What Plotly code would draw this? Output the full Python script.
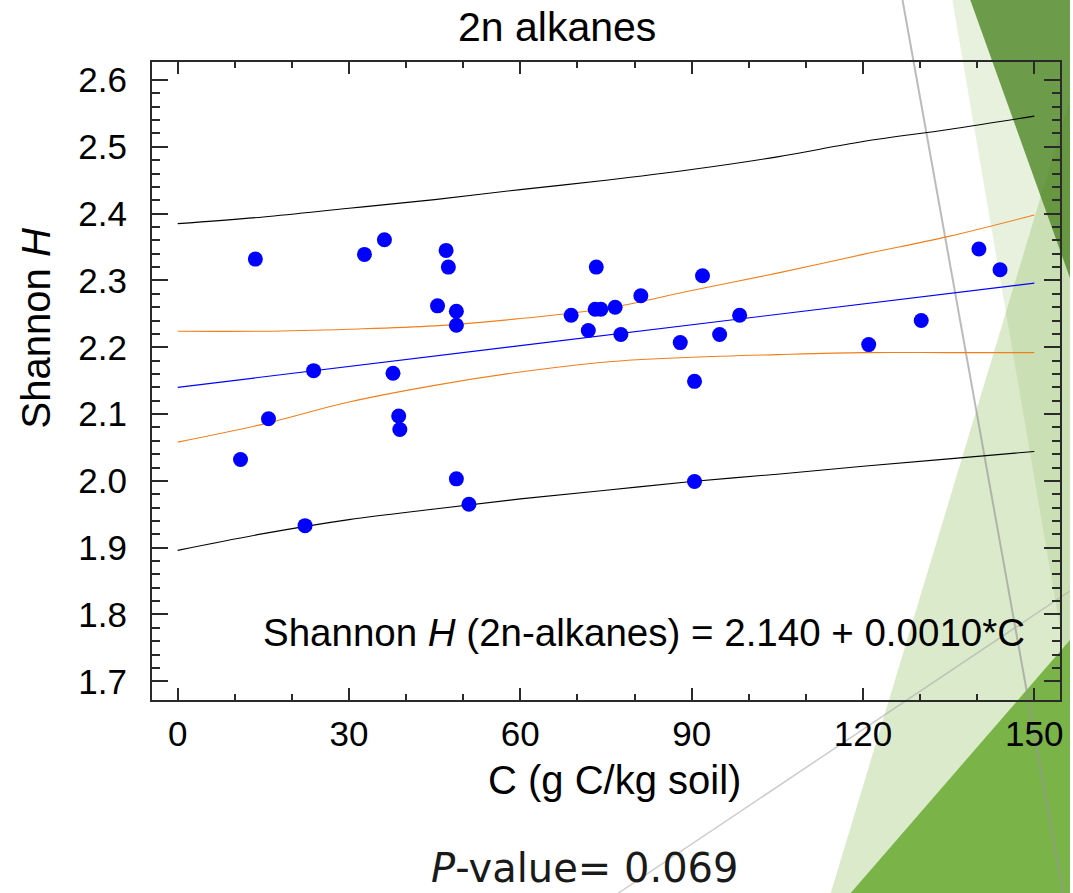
import numpy as np
import plotly.graph_objects as go

# ---------------- data ----------------
c_values = [11.0, 13.6, 15.9, 22.3, 23.8, 32.7, 36.2, 37.7, 38.7, 38.9,
            45.5, 47.0, 47.4, 48.8, 48.8, 48.8, 51.0, 68.9, 71.9, 73.3,
            73.1, 74.1, 76.6, 77.6, 81.1, 88.0, 90.5, 90.5, 91.9, 94.9,
            98.4, 121.0, 130.2, 140.3, 144.0]
shannon_h = [2.032, 2.332, 2.093, 1.933, 2.165, 2.339, 2.361, 2.161, 2.097, 2.077,
             2.262, 2.345, 2.320, 2.254, 2.233, 2.003, 1.965, 2.248, 2.225, 2.320,
             2.257, 2.257, 2.260, 2.219, 2.277, 2.207, 2.149, 1.999, 2.307, 2.219,
             2.248, 2.204, 2.240, 2.347, 2.316]

fit_c = [0, 150]
fit_h = [2.140, 2.296]

band_c = [0, 15, 30, 45, 60, 75, 90, 105, 120, 135, 150]
upper_pred = [2.385, 2.395, 2.408, 2.421, 2.436, 2.450, 2.466, 2.485, 2.508, 2.526, 2.546]
lower_pred = [1.896, 1.921, 1.942, 1.958, 1.973, 1.986, 1.999, 2.010, 2.022, 2.033, 2.044]
upper_ci = [2.224, 2.224, 2.227, 2.232, 2.243, 2.258, 2.285, 2.311, 2.339, 2.366, 2.398]
lower_ci = [2.058, 2.085, 2.118, 2.143, 2.163, 2.178, 2.185, 2.189, 2.192, 2.192, 2.192]

x_ticks = [0, 30, 60, 90, 120, 150]
y_ticks = [1.7, 1.8, 1.9, 2.0, 2.1, 2.2, 2.3, 2.4, 2.5, 2.6]

title_text = "2n alkanes"
x_title = "C (g C/kg soil)"
y_title = "Shannon <i>H</i>"
eq_text = "Shannon <i>H</i> (2n-alkanes) = 2.140 + 0.0010*C"
p_text = "<i>P</i>-value= 0.069"

# ---------------- layout geometry ----------------
W, H = 1073, 893
L, R, T, B = 152, 1063, 62, 700


def px(X):
    return (X - L) / (R - L)


def py(Y):
    return (B - Y) / (B - T)


def path(points):
    return "M " + " L ".join(f"{px(a):.5f},{py(b):.5f}" for a, b in points) + " Z"


fig = go.Figure()

LINE_W = 1.1
fig.add_trace(go.Scatter(x=band_c, y=upper_pred, mode="lines", line_shape="spline",
                         line=dict(color="black", width=LINE_W), hoverinfo="skip"))
fig.add_trace(go.Scatter(x=band_c, y=lower_pred, mode="lines", line_shape="spline",
                         line=dict(color="black", width=LINE_W), hoverinfo="skip"))
fig.add_trace(go.Scatter(x=band_c, y=upper_ci, mode="lines", line_shape="spline",
                         line=dict(color="#f07f1a", width=LINE_W), hoverinfo="skip"))
fig.add_trace(go.Scatter(x=band_c, y=lower_ci, mode="lines", line_shape="spline",
                         line=dict(color="#f07f1a", width=LINE_W), hoverinfo="skip"))
fig.add_trace(go.Scatter(x=fit_c, y=fit_h, mode="lines",
                         line=dict(color="#0000ff", width=LINE_W), hoverinfo="skip"))
fig.add_trace(go.Scatter(x=c_values, y=shannon_h, mode="markers",
                         marker=dict(color="#0000ff", size=15, line=dict(width=0))))

# decorative slide background shapes
shapes = [
    dict(type="path", path=path([(833, 893), (1073, 100), (1073, 893)]),
         fillcolor="rgba(124,179,66,0.27)", line=dict(width=0)),
    dict(type="path", path=path([(955, 0), (1073, 0), (1073, 686)]),
         fillcolor="rgba(124,179,66,0.18)", line=dict(width=0)),
    dict(type="path", path=path([(973, 0), (1073, 0), (1073, 278)]),
         fillcolor="rgba(80,135,40,0.82)", line=dict(width=0)),
    dict(type="path", path=path([(853, 893), (1073, 640), (1073, 893)]),
         fillcolor="#7ab448", line=dict(width=0)),
    dict(type="line", x0=px(905), y0=py(0), x1=px(1066), y1=py(893),
         line=dict(color="rgba(150,150,150,0.65)", width=2)),
    dict(type="line", x0=px(620), y0=py(893), x1=px(1073), y1=py(591),
         line=dict(color="rgba(170,170,170,0.6)", width=1.5)),
]
for s in shapes:
    s.update(xref="paper", yref="paper", layer="below")

FONT = "Liberation Sans, Arial, sans-serif"

annotations = [
    dict(text=title_text, x=px(558), y=py(27), font=dict(size=41, family=FONT, color="black")),
    dict(text=x_title, x=px(616), y=py(780), font=dict(size=40, family=FONT, color="black")),
    dict(text=y_title, x=px(36), y=py(328), textangle=-90,
         font=dict(size=40, family=FONT, color="black")),
    dict(text=eq_text, x=px(646), y=py(632), font=dict(size=38.5, family=FONT, color="black")),
    dict(text=p_text, x=px(586), y=py(868),
         font=dict(size=40, family="DejaVu Sans, sans-serif", color="#1a1a1a")),
]
for a in annotations:
    a.update(xref="paper", yref="paper", xanchor="center", yanchor="middle", showarrow=False)

axis_common = dict(showline=True, linewidth=2, linecolor="#2a2a2a", mirror="allticks",
                   ticks="inside", tickwidth=2, tickcolor="#2a2a2a", showgrid=False,
                   zeroline=False, tickfont=dict(size=35, family=FONT, color="black"))

fig.update_layout(
    width=W, height=H,
    margin=dict(l=L, r=W - R, t=T, b=H - B, pad=0),
    paper_bgcolor="white", plot_bgcolor="rgba(0,0,0,0)",
    showlegend=False,
    shapes=shapes, annotations=annotations,
    xaxis=dict(range=[-4.5, 154.5], tickvals=x_ticks, ticklen=12, ticklabelstandoff=2,
               minor=dict(tickvals=[v for v in range(0, 151, 10) if v % 30 != 0],
                          ticklen=6, tickwidth=1.5, tickcolor="#2a2a2a", ticks="inside"),
               **axis_common),
    yaxis=dict(range=[1.672, 2.627], tickvals=y_ticks, tickformat=".1f", ticklen=16,
               ticklabelstandoff=16,
               minor=dict(tickvals=[round(1.7 + 0.02 * i, 2) for i in range(46) if i % 5 != 0],
                          ticklen=8, tickwidth=1.5, tickcolor="#2a2a2a", ticks="inside"),
               **axis_common),
)

fig.write_html("out.html")
